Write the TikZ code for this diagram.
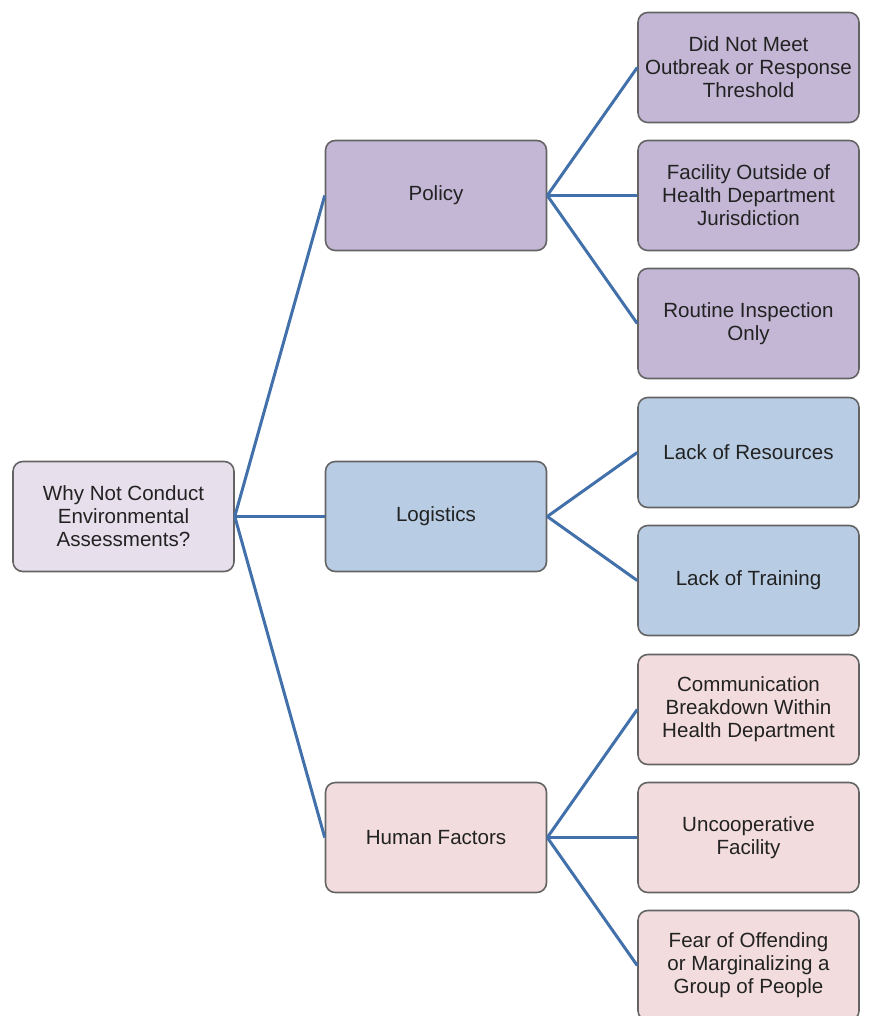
\documentclass[tikz,border=0pt]{standalone}
\usepackage{fontspec}
\setmainfont{Liberation Sans}
\definecolor{rootfill}{RGB}{231,223,236}
\definecolor{policyfill}{RGB}{195,183,213}
\definecolor{logisticsfill}{RGB}{184,204,228}
\definecolor{humanfill}{RGB}{242,220,221}
\definecolor{boxline}{RGB}{100,100,100}
\definecolor{linkblue}{RGB}{66,112,170}
\definecolor{textgray}{RGB}{34,34,34}

\begin{document}
\begin{tikzpicture}[x=0.02cm, y=-0.02cm,
    every node/.style={draw=boxline, line width=0.9pt, rounded corners=5.5pt,
                       minimum width=4.42cm, minimum height=2.2cm,
                       align=center, text=textgray,
                       font=\fontsize{11.7}{13.1}\selectfont},
    root/.style    = {fill=rootfill},
    policy/.style  = {fill=policyfill},
    logistic/.style= {fill=logisticsfill},
    human/.style   = {fill=humanfill},
    link/.style    = {draw=linkblue, line width=1.7pt},
  ]
  \useasboundingbox (0,0) rectangle (895,1016);

  % root and the three branches
  \node[root](why) at (123.5,516.5) {Why Not Conduct\\Environmental\\Assessments?};
  \node[policy](pol) at (436,195.5) {Policy};
  \node[logistic](log) at (436,516.5) {Logistics};
  \node[human](hum) at (436,837.5) {Human Factors};

  % policy leaves
  \node[policy](thresh) at (748.5,67.5) {Did Not Meet\\Outbreak or Response\\Threshold};
  \node[policy](juris) at (748.5,195.5) {Facility Outside of\\Health Department\\Jurisdiction};
  \node[policy](routine) at (748.5,323.5) {Routine Inspection\\Only};

  % logistics leaves
  \node[logistic](resources) at (748.5,452.5) {Lack of Resources};
  \node[logistic](training) at (748.5,580.5) {Lack of Training};

  % human factors leaves
  \node[human](comm) at (748.5,709.5) {Communication\\Breakdown Within\\Health Department};
  \node[human](uncoop) at (748.5,837.5) {Uncooperative\\Facility};
  \node[human](fear) at (748.5,965.5) {Fear of Offending\\or Marginalizing a\\Group of People};

  \foreach \from/\to in {why/pol, why/log, why/hum,
                         pol/thresh, pol/juris, pol/routine,
                         log/resources, log/training,
                         hum/comm, hum/uncoop, hum/fear}
    \draw[link] (\from.east) -- (\to.west);

\end{tikzpicture}
\end{document}
